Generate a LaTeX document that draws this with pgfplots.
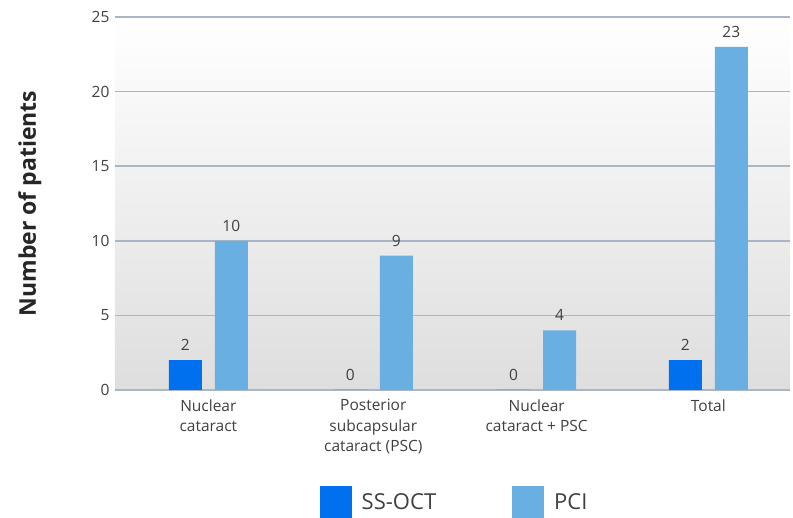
\documentclass[border=0pt]{standalone}
\usepackage{fontspec}
\setmainfont{Open Sans}
\usepackage{pgfplots}
\pgfplotsset{compat=1.18}
\definecolor{ssoct}{HTML}{0070EE}
\definecolor{pci}{HTML}{6AAFE2}
\definecolor{gridc}{HTML}{A8B6C6}
\definecolor{txt}{HTML}{404040}
\begin{document}
\begin{tikzpicture}
\begin{axis}[
  scale only axis, width=675pt, height=373pt,
  xmin=-0.56, xmax=3.49, ymin=0, ymax=25,
  ytick={0,5,...,25}, xtick={0,0.99,1.97,3},
  xticklabels={Nuclear\\cataract, Posterior\\subcapsular\\cataract (PSC), Nuclear\\cataract + PSC, Total},
  x tick label style={align=center, font=\fontsize{15.5}{20.5}\selectfont, text=txt, anchor=north, yshift=-6pt},
  y tick label style={font=\fontsize{15.5}{17}\selectfont, text=txt, xshift=-2pt},
  /pgf/number format/assume math mode=true,
  major tick length=0pt,
  axis line style={draw=none},
  ymajorgrids, grid style={draw=gridc, line width=1.6pt},
  axis background/.style={top color=white, bottom color=black!13},
  ybar=13pt, bar width=33pt,
  nodes near coords,
  nodes near coords style={font=\fontsize{15.5}{17}\selectfont, text=txt, yshift=6pt},
  ylabel={\textbf{Number of patients}},
  every axis y label/.style={at={(axis description cs:-0.126,0.5)}, rotate=90, anchor=center, font=\fontsize{23}{27}\selectfont, text=black!85},
  legend style={draw=none, fill=none, at={(0.509,-0.30)}, anchor=center, font=\fontsize{22}{26}\selectfont, text=txt,
    /tikz/every odd column/.append style={column sep=0pt},
    /tikz/every even column/.append style={column sep=66pt},
    nodes={inner xsep=10pt}},
  legend columns=2,
  legend image code/.code={\fill[#1] (0pt,-16pt) rectangle (32pt,16pt);},
]
\addplot[fill=ssoct, draw=none] coordinates {(0,2) (0.99,0) (1.97,0) (3,2)};
\addplot[fill=pci, draw=none] coordinates {(0,10) (0.99,9) (1.97,4) (3,23)};
\legend{SS-OCT, PCI}
\end{axis}
\pgfresetboundingbox
\path (current axis.south west) ++(-115pt,-128pt) rectangle ++(793pt,518pt);
\end{tikzpicture}
\end{document}
